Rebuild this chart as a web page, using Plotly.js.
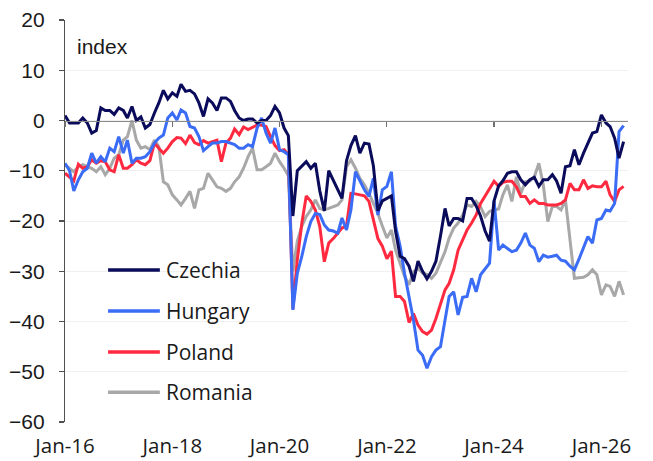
<!DOCTYPE html>
<html>
<head>
<meta charset="utf-8">
<script src="https://cdn.plot.ly/plotly-3.0.1.min.js"></script>
<style>
  html, body { margin: 0; padding: 0; background: #ffffff; }
  #chart { width: 653px; height: 461px; }
</style>
</head>
<body>
<div id="chart"></div>
<script>
// Monthly series, first observation Jan 2016
const startYear = 2016;
const startMonth = 1;

const seriesNames = ["Czechia", "Hungary", "Poland", "Romania"];
const seriesColors = ["#0b0b5c", "#3a6cf6", "#ff2a40", "#a8a8a8"];

const czechia = [
  1.0, -0.5, -0.5, -0.5, 0.5, -0.5, -2.5, -2.0, 2.5, 2.0, 2.0, 1.2,
  2.5, 2.0, 0.5, 2.8, 0.0, 0.7, -1.5, -0.8, 1.5, 3.5, 6.0, 4.3,
  5.5, 4.8, 7.2, 5.8, 6.0, 5.3, 3.5, 0.8, 4.3, 3.5, 2.0, 4.5,
  4.5, 3.8, 2.0, 0.5, 0.0, 0.3, 0.3, -0.5, 0.0, 0.0, 1.0, 2.8,
  1.5, -1.5, -3.0, -19.0, -10.0, -9.0, -8.2, -9.5, -8.5, -14.0, -18.0, -10.0,
  -12.0, -14.0, -15.5, -8.0, -5.0, -3.0, -6.5, -4.5, -4.7, -9.0, -18.0, -16.0,
  -15.5, -15.0, -22.0, -27.0, -27.5, -29.0, -32.0, -28.0, -30.0, -31.5, -30.0, -28.0,
  -23.0, -17.5, -21.0, -19.5, -19.5, -20.0, -15.5, -15.5, -17.0, -19.0, -22.0, -24.0,
  -16.0, -13.0, -12.0, -10.5, -10.2, -10.2, -11.8, -12.8, -11.8, -11.3, -13.1, -11.8,
  -11.8, -10.8, -12.0, -14.5, -9.2, -9.0, -5.8, -8.8, -6.5, -4.5, -2.5, -2.2,
  1.1, -0.5, -1.2, -3.5, -7.5, -4.2
];

const hungary = [
  -8.5, -10.0, -14.0, -11.8, -10.2, -9.5, -6.5, -8.5, -7.2, -8.2, -5.5, -6.2,
  -3.2, -6.5, -3.9, -8.5, -7.5, -7.5, -7.2, -6.2, -4.5, -3.5, -2.9, 0.5,
  1.5, 0.1, 2.1, 1.5, -1.2, -1.5, -3.2, -6.0, -5.2, -4.5, -4.5, -4.2,
  -4.2, -4.5, -4.8, -5.5, -5.5, -4.8, -5.2, -1.5, 0.5, -2.5, -4.5, -1.5,
  -5.8, -6.2, -6.8, -37.7, -30.4, -27.0, -23.1, -20.1, -18.5, -18.7, -20.8, -21.8,
  -22.0, -22.4, -19.4, -21.8, -17.8, -10.2, -12.1, -13.8, -15.1, -11.5, -18.8, -13.8,
  -13.1, -10.2, -21.0, -25.0, -30.4, -35.0, -39.7, -45.7, -46.7, -49.3, -47.0, -45.7,
  -45.0, -39.7, -35.0, -34.1, -38.7, -35.2, -35.0, -31.4, -34.1, -30.7, -29.4, -28.4,
  -16.0, -25.8, -24.8, -25.5, -26.1, -25.8, -24.4, -22.4, -24.8, -25.4, -28.1, -26.8,
  -27.2, -27.0, -26.8, -27.8, -28.0, -29.0, -29.7, -27.6, -25.4, -23.1, -24.4, -19.8,
  -19.5, -17.8, -18.0, -16.5, -2.2, -1.0
];

const poland = [
  -10.5, -11.2, -12.0, -8.7, -9.5, -9.2, -7.8, -8.5, -8.0, -8.2, -9.8, -10.2,
  -6.8, -9.5, -9.5, -8.8, -7.8, -8.5, -8.8, -8.0, -4.5, -5.5, -6.5, -5.5,
  -4.2, -3.4, -3.5, -4.6, -2.9, -4.4, -4.8, -4.0, -4.5, -4.2, -3.9, -8.2,
  -4.5, -3.5, -1.7, -2.8, -1.3, -1.8, -1.3, -0.9, -0.9, -1.2, -3.2, -5.0,
  -6.0, -5.8, -6.8, -37.5, -27.7, -20.4, -15.0, -16.1, -17.8, -21.1, -28.1, -24.4,
  -23.5, -22.4, -21.4, -21.0, -14.5, -14.6, -14.8, -15.0, -16.1, -19.8, -23.5, -25.0,
  -27.5, -26.0, -35.0, -35.0, -36.0, -40.2, -38.4, -40.7, -42.0, -42.5, -41.7, -39.4,
  -36.4, -33.7, -32.4, -29.7, -25.8, -23.8, -21.8, -20.4, -18.8, -16.5, -15.1, -13.5,
  -12.1, -13.1, -12.3, -12.1, -12.1, -13.2, -15.1, -15.1, -16.5, -15.8, -16.5, -16.5,
  -16.8, -16.8, -16.8, -16.5, -15.8, -12.5, -13.8, -13.8, -11.8, -13.5, -13.0, -13.2,
  -13.2, -12.1, -14.8, -16.1, -13.8, -13.1
];

const romania = [
  -8.8, -9.5, -10.2, -9.2, -8.8, -9.2, -9.5, -10.2, -9.2, -10.8, -9.5, -7.5,
  -6.8, -3.9, -3.2, 0.0, -3.9, -5.5, -5.2, -5.8, -3.9, -5.2, -12.2, -12.8,
  -14.8, -15.8, -16.8, -15.5, -14.1, -17.5, -13.8, -13.5, -10.5, -11.8, -13.2, -13.5,
  -14.1, -13.5, -12.2, -11.2, -9.5, -7.2, -5.5, -9.8, -9.8, -9.2, -8.5, -6.5,
  -8.2, -9.5, -11.0, -30.0, -24.0, -21.0, -19.1, -17.8, -15.8, -17.5, -17.8, -17.5,
  -17.1, -16.8, -15.8, -9.2, -7.8, -9.5, -11.5, -12.8, -14.5, -16.5, -18.5, -21.0,
  -23.4, -21.8, -25.8, -28.4, -31.0, -32.7, -30.1, -29.4, -30.4, -30.6, -31.4, -30.4,
  -28.4, -26.1, -23.4, -21.4, -20.4, -18.8, -16.8, -17.1, -16.1, -17.2, -19.1, -18.1,
  -17.8, -17.6, -14.8, -12.8, -16.1, -11.2, -14.5, -12.2, -12.0, -11.2, -8.5, -12.8,
  -20.1, -17.1, -17.1, -17.8, -15.8, -23.4, -31.4, -31.3, -31.2, -30.7, -29.7, -30.7,
  -34.7, -32.7, -33.0, -35.0, -32.0, -34.7
];

const xTickLabelsFormat = "%b-%y";
const yTickValues = [-60, -50, -40, -30, -20, -10, 0, 10, 20];
const yUnitLabel = "index";

function monthDates(n) {
  const out = [];
  for (let i = 0; i < n; i++) {
    const total = (startMonth - 1) + i;
    const y = startYear + Math.floor(total / 12);
    const m = (total % 12) + 1;
    out.push(y + "-" + String(m).padStart(2, "0") + "-01");
  }
  return out;
}

const allSeries = [czechia, hungary, poland, romania];
const traces = allSeries.map((vals, i) => ({
  type: "scatter",
  mode: "lines",
  name: seriesNames[i],
  x: monthDates(vals.length),
  y: vals,
  line: { color: seriesColors[i], width: 3, shape: "linear" },
  hoverinfo: "x+y+name"
}));
const ordered = [traces[3], traces[2], traces[1], traces[0]];

const xRange = ["2016-01-01", "2026-07-01"];
const fontAxis = "'Open Sans', 'Noto Sans', sans-serif";
const fontNum = "'Liberation Sans', Arial, sans-serif";

// custom legend (line sample + label)
const legendY = [0.378, 0.276, 0.174, 0.074];
const shapes = [];
const annotations = [];
seriesNames.forEach((nm, i) => {
  shapes.push({
    type: "line", xref: "paper", yref: "paper",
    x0: 0.0765, x1: 0.1685, y0: legendY[i], y1: legendY[i],
    line: { color: seriesColors[i], width: 3.5 }
  });
  annotations.push({
    xref: "paper", yref: "paper", x: 0.176, y: legendY[i],
    xanchor: "left", yanchor: "middle", showarrow: false,
    text: nm, font: { family: fontAxis, size: 21, color: "#1a1a1a" }
  });
});
annotations.push({
  xref: "paper", yref: "y", x: 0.017, y: 14.8,
  xanchor: "left", yanchor: "middle", showarrow: false,
  text: yUnitLabel, font: { family: fontNum, size: 21, color: "#1a1a1a" }
});

const layout = {
  width: 653, height: 461,
  margin: { l: 65, r: 25, t: 20, b: 39.3, pad: 0 },
  paper_bgcolor: "#ffffff",
  plot_bgcolor: "#ffffff",
  showlegend: false,
  xaxis: {
    type: "date",
    range: xRange,
    tick0: "2016-01-01",
    dtick: "M24",
    tickformat: xTickLabelsFormat,
    showgrid: false,
    zeroline: false,
    showline: false,
    ticks: "",
    ticklabelstandoff: 9,
    tickfont: { family: fontAxis, size: 20.5, color: "#1a1a1a" },
    fixedrange: true
  },
  xaxis2: {
    type: "date",
    range: xRange,
    overlaying: "x",
    anchor: "free",
    position: 0.75,
    side: "bottom",
    tick0: "2016-01-01",
    dtick: "M24",
    showgrid: false,
    zeroline: false,
    showline: true,
    linecolor: "#8a8a8a",
    linewidth: 1.5,
    ticks: "outside",
    ticklen: 5,
    tickwidth: 1.2,
    tickcolor: "#707070",
    showticklabels: false,
    fixedrange: true
  },
  yaxis: {
    range: [-60, 20],
    tickvals: yTickValues,
    ticks: "outside",
    ticklen: 5,
    tickwidth: 1.2,
    tickcolor: "#505050",
    showline: true,
    linecolor: "#505050",
    linewidth: 1.2,
    showgrid: true,
    gridcolor: "#f0f0f0",
    gridwidth: 1,
    zeroline: false,
    ticklabelstandoff: 10,
    tickfont: { family: fontNum, size: 21, color: "#1a1a1a" },
    fixedrange: true
  },
  shapes: shapes,
  annotations: annotations
};

const anchorTrace = {
  type: "scatter", mode: "lines", x: xRange, y: [null, null],
  xaxis: "x2", yaxis: "y", hoverinfo: "skip", showlegend: false
};

Plotly.newPlot("chart", [anchorTrace].concat(ordered), layout, { displayModeBar: false, staticPlot: true });
</script>
</body>
</html>
